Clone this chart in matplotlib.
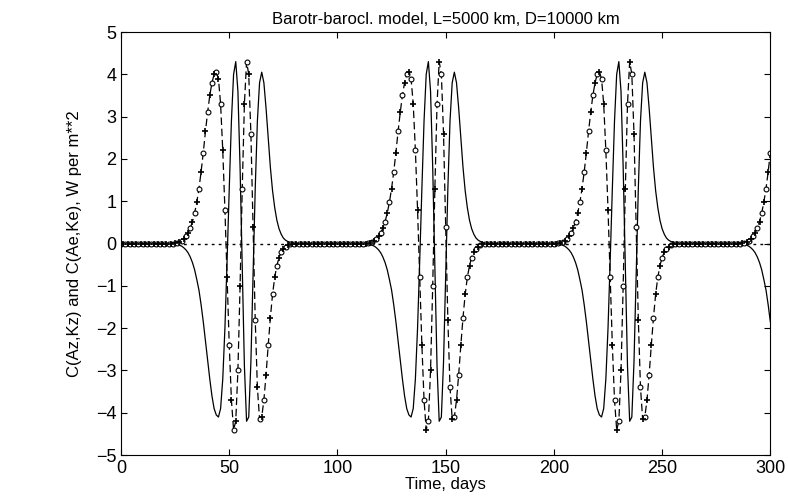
import numpy as np
import matplotlib.pyplot as plt

plt.rcParams['font.family'] = ['Liberation Sans', 'DejaVu Sans']
plt.rcParams['font.size'] = 12

# one episode, daily values from day 20 to day 85
ep_days = np.arange(20, 86)
solid_ep = [0, 0, 0, -0.01, -0.02, -0.04, -0.06, -0.1, -0.15, -0.22, -0.32, -0.45, -0.62,
            -0.85, -1.1, -1.45, -1.85, -2.3, -2.75, -3.2, -3.6, -3.9, -4.05, -4.1, -3.9,
            -3.2, -2.0, -0.4, 1.3, 2.9, 4.0, 4.3, 3.6, 1.8, -0.6, -2.9, -4.2, -4.1, -2.8,
            -0.8, 1.3, 2.9, 3.8, 4.05, 3.8, 3.2, 2.5, 1.8, 1.25, 0.85, 0.55, 0.35, 0.22,
            0.13, 0.08, 0.05, 0.03, 0.02, 0.01, 0, 0, 0, 0, 0, 0, 0]
dash_ep = [0, 0, 0, 0.01, 0.02, 0.04, 0.07, 0.11, 0.17, 0.25, 0.37, 0.52, 0.72, 0.98,
           1.3, 1.7, 2.15, 2.65, 3.1, 3.5, 3.8, 4.0, 4.05, 3.9, 3.3, 2.2, 0.8, -0.8,
           -2.4, -3.7, -4.4, -4.2, -3.0, -1.0, 1.3, 3.3, 4.3, 4.0, 2.6, 0.4, -1.8, -3.4,
           -4.15, -4.1, -3.7, -3.1, -2.4, -1.75, -1.2, -0.8, -0.52, -0.33, -0.2, -0.12,
           -0.07, -0.04, -0.02, -0.01, 0, 0, 0, 0, 0, 0, 0, 0]
ep_offsets = [2, 91, 179, 264]

t = np.arange(0, 301)
solid = np.zeros(len(t))
dash = np.zeros(len(t))
for off in ep_offsets:
    for d, s, k in zip(ep_days, solid_ep, dash_ep):
        i = d + off
        if 0 <= i <= 300:
            solid[i] = s
            dash[i] = k

fig = plt.figure(figsize=(7.88, 5.04), dpi=100)
ax = fig.add_axes([0.1536, 0.097, 0.824, 0.8395])
ax.axhline(0, color='k', ls=(0, (2, 3)), lw=1)
ax.plot(t, solid, color='k', lw=0.9)
ax.plot(t, dash, color='k', lw=0.9, ls=(0, (6, 3)))
ax.plot(t[::2], dash[::2], 'o', ms=3.5, mfc='white', mec='k', mew=0.8)
ax.plot(t[1::2], dash[1::2], '+', ms=5, color='k', mew=1.2)

ax.set_xlim(0, 300)
ax.set_ylim(-5, 5)
ax.set_xticks(range(0, 301, 50))
ax.set_yticks(range(-5, 6))
ax.tick_params(direction='in', length=4, top=True, right=True, labelsize=13)
ax.set_title('Barotr-barocl. model, L=5000 km, D=10000 km', fontsize=12)
ax.set_xlabel('Time, days', labelpad=0)
ax.set_ylabel('C(Az,Kz) and C(Ae,Ke), W per m**2', labelpad=10)
fig.savefig('out.png')
